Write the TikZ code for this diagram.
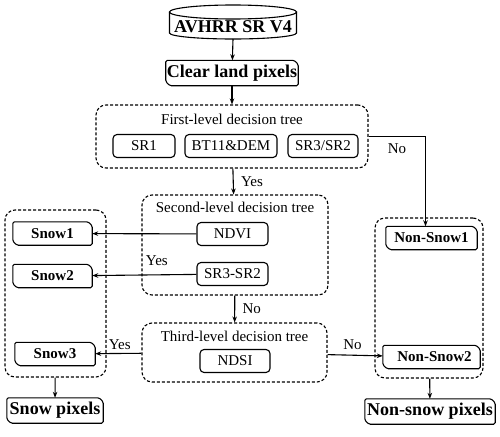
\documentclass[tikz,border=0pt]{standalone}
\usepackage{fontspec}
\setmainfont{Liberation Serif}
\usepackage{tikz}
\usetikzlibrary{arrows.meta,positioning,calc}
\tikzset{
  grp/.style={draw,densely dashed,line width=1.1pt,rounded corners=10pt},
  tst/.style={draw,line width=1.1pt,rounded corners=4pt,inner sep=1pt,minimum height=23pt},
  res/.style={inner sep=1pt,font=\fontsize{15}{17}\selectfont\bfseries,minimum height=23pt},
  big/.style={res,font=\fontsize{18}{20}\selectfont\bfseries,minimum height=25pt},
  arr/.style={-{Stealth[length=6pt,width=4.5pt]},line width=1.1pt}
}
\newcommand\crd[1]{\draw[line width=1.1pt,rounded corners=1.5pt] (#1.north west) -- ($(#1.north east)+(-4,0)$)
  -- ($(#1.north east)+(0,4)$) -- (#1.south east) -- ($(#1.south west)+(4,0)$) -- ($(#1.south west)+(0,-4)$) -- cycle;}
\begin{document}
\begin{tikzpicture}[x=1pt,y=-1pt, every node/.style={font=\fontsize{15}{17}\selectfont}]
  \useasboundingbox (0,0) rectangle (500,436);
  \node[font=\fontsize{18}{20}\selectfont\bfseries] (src) at (233,27) {AVHRR SR V4};
  \draw[line width=1.1pt] ($(src)+(0,-15)$) ellipse [x radius=63.5,y radius=7];
  \draw[line width=1.1pt] ($(src)+(-63.5,-15)$) -- ($(src)+(-63.5,6)$) arc[start angle=180,end angle=0,x radius=63.5,y radius=6]
    -- ($(src)+(63.5,-15)$);
  \coordinate (srcb) at ($(src)+(0,12)$);
  \node[big,minimum width=129pt] (clr) at (232,73) {Clear land pixels};
  % decision trees
  \node[grp,minimum width=272pt,minimum height=63pt] (t1) at (232,136.5) {};
  \node (t1l) at (232,119) {First-level decision tree};
  \node[tst,minimum width=62pt] (sr1) at (144,146) {SR1};
  \node[tst,minimum width=92pt] (bt) at (231,146) {BT11\&DEM};
  \node[tst,minimum width=70pt] (rat) at (323,146) {SR3/SR2};
  \node[grp,minimum width=186pt,minimum height=100pt] (t2) at (235,245) {};
  \node (t2l) at (235,207) {Second-level decision tree};
  \node[tst,minimum width=71pt] (ndvi) at (232.5,234) {NDVI};
  \node[tst,minimum width=71pt] (dif) at (232.5,274) {SR3-SR2};
  \node[grp,minimum width=185pt,minimum height=59pt] (t3) at (234.5,352.5) {};
  \node (t3l) at (234.5,336) {Third-level decision tree};
  \node[tst,minimum width=70pt] (ndsi) at (235,361) {NDSI};
  % results
  \node[grp,minimum width=101pt,minimum height=167pt] (gs) at (55.5,293.5) {};
  \node[res,minimum width=79pt] (s1) at (52.5,233.5) {Snow1};
  \node[res,minimum width=79pt] (s2) at (52.5,276) {Snow2};
  \node[res,minimum width=80pt] (s3) at (55,354) {Snow3};
  \node[big,minimum width=96pt] (sp) at (55,410.5) {Snow pixels};
  \node[grp,minimum width=108pt,minimum height=160pt] (gn) at (429,298) {};
  \node[res,minimum width=91pt] (n1) at (431.5,238) {Non-Snow1};
  \node[res,minimum width=97pt] (n2) at (431.5,357) {\hspace{6pt}Non-Snow2};
  \node[big,minimum width=130pt] (np) at (430,411.5) {Non-snow pixels};
  \foreach \n in {clr,s1,s2,s3,sp,n1,n2,np} {\crd{\n}}
  % connectors
  \draw[arr] (srcb) -- (clr);
  \draw[arr] (clr) -- (t1);
  \draw[arr] (t1) -- node[right=4pt] {Yes} (t2);
  \draw[arr] (t1.east) -| node[pos=0.25,below=3pt] {No} ($(n1.north)+(-6,0)$);
  \draw[arr] (ndvi) -- (s1);
  \draw[arr] (dif) -- node[pos=0.38,above=5pt] {Yes} (s2);
  \draw[arr] (t2) -- node[right=4pt] {No} (t3);
  \draw[arr] (t3) -- node[pos=0.47,above=0pt] {Yes} (s3);
  \draw[arr] (t3) -- node[pos=0.45,above=2pt] {No} (n2);
  \draw[arr] (gs) -- (sp);
  \draw[arr] (gn) -- (np);
\end{tikzpicture}
\end{document}
